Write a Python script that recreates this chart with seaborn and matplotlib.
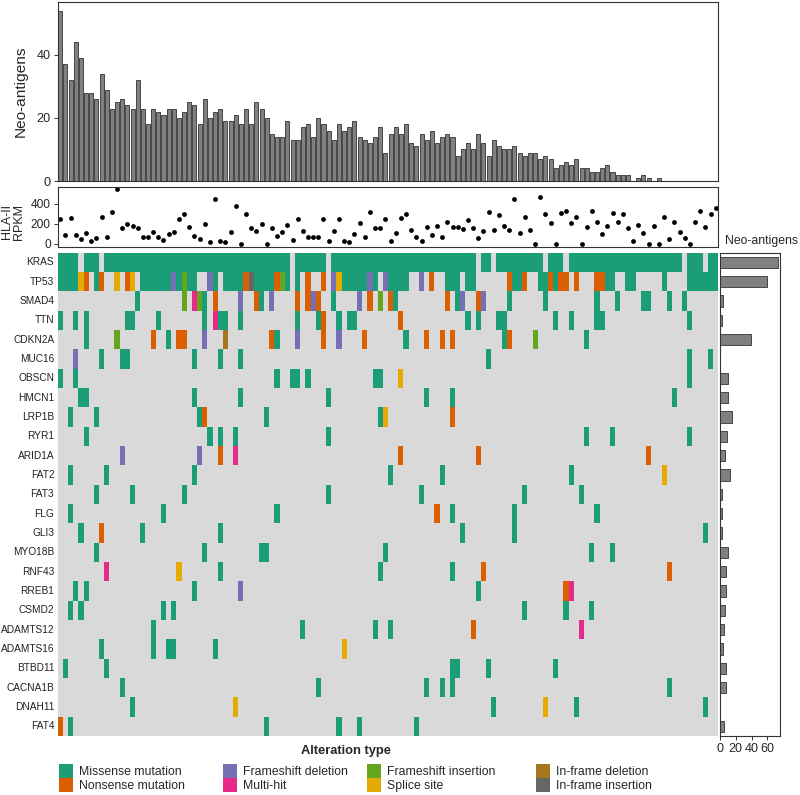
import numpy as np
import pandas as pd
import matplotlib
matplotlib.use("Agg")
import matplotlib.pyplot as plt
from matplotlib.colors import ListedColormap
from matplotlib.patches import Patch
import seaborn as sns

# ---------------- data ----------------
n_samples = 128
sample_idx = list(range(n_samples))

neo_antigens = [54, 37, 32, 44, 39, 28, 28, 26, 34, 29,
                23, 25, 26, 24, 23, 32, 23, 18, 23, 22,
                21, 23, 23, 20, 22, 25, 24, 18, 26, 20,
                22, 23, 19, 19, 21, 18, 23, 18, 25, 23,
                20, 15, 14, 14, 19, 13, 13, 17, 18, 14,
                20, 18, 16, 13, 18, 16, 17, 19, 14, 13,
                12, 14, 17, 9, 15, 17, 15,
                18, 12, 11, 15, 13, 16, 12, 14, 15, 14,
                8, 10, 12, 10, 15, 12, 8, 13, 11, 10,
                10, 11, 9, 8, 9, 9, 7, 8, 7, 4,
                5, 6, 5, 7, 4, 4, 3, 3, 4, 5,
                3, 2, 2, 2, 0, 1, 2, 1, 0, 1,
                0, 0, 0, 0, 0, 0, 0, 0, 0, 0, 0]

hla_rpkm = [247, 90, 257, 90, 50, 107, 30, 63, 273, 73,
            317, 547, 163, 197, 180, 163, 73, 73, 123, 73,
            40, 97, 123, 250, 297, 173, 80, 50, 200, 23,
            450, 33, 17, 123, 380, 0, 300, 157, 133, 197,
            0, 157, 80, 123, 190, 40, 247, 133, 73, 73,
            73, 247, 33, 133, 250, 30, 23, 100, 207, 73,
            317, 157, 163, 247, 30, 107, 257, 300, 140, 73,
            30, 167, 90, 183, 67, 217, 173, 173, 147, 240,
            157, 63, 130, 317, 140, 290, 183, 140, 450, 107,
            267, 140, 0, 473, 300, 207, 0, 307, 333, 207,
            267, 0, 167, 333, 217, 100, 183, 307, 223, 297,
            157, 30, 190, 113, 0, 180, 0, 267, 50, 223,
            117, 63, 0, 223, 330, 173, 300, 357]

genes = ["KRAS", "TP53", "SMAD4", "TTN", "CDKN2A", "MUC16", "OBSCN", "HMCN1",
         "LRP1B", "RYR1", "ARID1A", "FAT2", "FAT3", "FLG", "GLI3", "MYO18B",
         "RNF43", "RREB1", "CSMD2", "ADAMTS12", "ADAMTS16", "BTBD11",
         "CACNA1B", "DNAH11", "FAT4"]

gene_neo_antigens = [73, 60, 3.4, 2, 39, 0, 9.7, 9.7, 15, 8.5, 6.3, 12.3, 3,
                     2, 3, 9.7, 7, 7, 6.3, 5.5, 3.4, 7, 8, 0, 4.7]

alteration_types = ["Missense mutation", "Nonsense mutation", "Frameshift deletion",
                    "Multi-hit", "Frameshift insertion", "Splice site",
                    "In-frame deletion", "In-frame insertion"]
alteration_codes = ["MS", "NS", "FD", "MH", "FI", "SP", "ID", "II"]
alteration_colors = ["#1B9E77", "#D95F02", "#7570B3", "#E7298A",
                     "#66A61E", "#E6AB02", "#A6761D", "#666666"]
background_color = "#D9D9D9"

# (sample, code) or (first_sample, last_sample, code)
alterations = {
    "KRAS": [(0, 3, "MS"), (5, 7, "MS"), (9, 44, "MS"), (46, 51, "MS"), (53, 80, "MS"),
             (82, 83, "MS"), (85, 93, "MS"), (95, 97, "MS"), (99, 120, "MS"),
             (122, 124, "MS"), (126, 127, "MS")],
    "TP53": [(0, 3, "MS"), (4, "SP"), (5, "NS"), (7, "MS"), (8, "NS"), (11, "SP"),
             (13, "NS"), (14, "SP"), (16, 21, "MS"), (22, "FD"), (23, "MS"), (24, "FI"),
             (25, 26, "MS"), (29, "FD"), (30, "MS"), (32, 35, "MS"), (36, "NS"), (37, "II"),
             (38, 41, "MS"), (42, "NS"), (43, "FI"), (44, "MS"), (46, "MS"), (48, "NS"),
             (51, "NS"), (53, "FD"), (54, "SP"), (55, 59, "MS"), (60, "FD"), (61, "MS"),
             (63, "FD"), (64, 67, "MS"), (70, "FD"), (72, "NS"), (75, 77, "MS"),
             (79, 80, "MS"), (87, "NS"), (88, 89, "MS"), (90, "NS"), (93, 94, "MS"),
             (95, "NS"), (96, "MS"), (97, 98, "NS"), (100, "NS"), (104, 105, "NS"),
             (106, 107, "MS"), (110, 111, "MS"), (117, "MS"), (122, 127, "MS")],
    "SMAD4": [(15, "MS"), (24, "FI"), (26, "MH"), (27, "FI"), (28, "MS"), (30, "NS"),
              (35, "FD"), (38, "NS"), (39, "MS"), (41, "FD"), (46, "NS"), (48, "NS"),
              (49, "FD"), (50, "NS"), (53, "MS"), (58, "FD"), (60, "NS"), (62, "FI"),
              (64, "NS"), (65, "MS"), (75, "NS"), (77, "MS"), (78, "FD"), (81, "NS"),
              (82, "FD"), (87, "MS"), (94, "MS"), (104, "MS"), (108, "MS"),
              (113, 114, "MS"), (118, "MS"), (121, "MS")],
    "TTN": [(0, "MS"), (3, "MS"), (5, "MS"), (13, 14, "MS"), (19, "MS"), (28, "MS"),
            (30, "MH"), (31, 32, "MS"), (35, "MS"), (46, "MS"), (50, "MS"), (51, "NS"),
            (54, "MS"), (56, 57, "MS"), (66, "NS"), (79, "MS"), (81, "MS"), (85, 86, "MS"),
            (96, "MS"), (99, "MS"), (104, 105, "MS"), (122, "MS")],
    "CDKN2A": [(5, "MS"), (11, "FI"), (18, "NS"), (21, "MS"), (23, 24, "NS"), (28, "FD"),
               (32, "ID"), (41, "NS"), (42, "MS"), (46, "FD"), (51, "NS"), (54, "FD"),
               (59, "NS"), (67, "MS"), (71, "NS"), (74, "NS"), (76, "NS"), (86, "MS"),
               (87, "NS"), (92, "FI"), (102, "MS")],
    "MUC16": [(3, "FD"), (8, "MS"), (12, 13, "MS"), (26, "MS"), (31, "MS"), (35, "MS"),
              (83, "MS"), (122, "MS"), (126, "MS")],
    "OBSCN": [(0, "MS"), (3, "MS"), (42, "MS"), (45, 46, "MS"), (48, "MS"), (61, 62, "MS"),
              (66, "SP"), (122, "MS")],
    "HMCN1": [(4, 5, "MS"), (26, "MS"), (35, "MS"), (52, "MS"), (71, "MS"), (76, "MS"),
              (119, "MS")],
    "LRP1B": [(2, "MS"), (7, "MS"), (27, "MS"), (28, "NS"), (40, "MS"), (62, "MS"),
              (63, "SP"), (76, "NS")],
    "RYR1": [(5, "MS"), (29, "MS"), (31, "MS"), (34, "MS"), (52, "MS"), (102, "MS"),
             (107, "MS"), (122, "MS")],
    "ARID1A": [(12, "FD"), (27, "FD"), (31, "NS"), (34, "MH"), (66, "NS"), (81, "NS"),
               (114, "NS")],
    "FAT2": [(2, "MS"), (9, "MS"), (26, "MS"), (64, "MS"), (74, "MS"), (99, "MS"),
             (117, "SP")],
    "FAT3": [(7, "MS"), (14, "MS"), (24, "MS"), (52, "MS"), (70, "MS"), (90, "MS"),
             (101, "MS")],
    "FLG": [(2, "MS"), (20, "MS"), (42, "MS"), (73, "NS"), (76, "MS"), (88, "MS"),
            (104, "MS")],
    "GLI3": [(4, "MS"), (8, "NS"), (16, "MS"), (31, "MS"), (78, "MS"), (88, "MS"),
             (125, "MS")],
    "MYO18B": [(7, "MS"), (28, "MS"), (39, 40, "MS"), (63, "MS"), (103, "MS"), (107, "MS")],
    "RNF43": [(9, "MH"), (23, "SP"), (31, "MS"), (62, "MS"), (76, "MS"), (82, "NS"),
              (118, "NS")],
    "RREB1": [(3, "MS"), (5, "MS"), (26, "MS"), (35, "FD"), (81, "MS"), (98, "NS"),
              (99, "MH")],
    "CSMD2": [(2, "MS"), (4, "MS"), (20, "MS"), (22, "MS"), (90, "MS"), (98, "MS"),
              (103, "MS")],
    "ADAMTS12": [(18, "MS"), (47, "MS"), (61, "MS"), (64, "MS"), (80, "NS"), (101, "MH")],
    "ADAMTS16": [(8, "MS"), (18, "MS"), (21, 22, "MS"), (30, "MS"), (55, "SP")],
    "BTBD11": [(1, "MS"), (9, "MS"), (76, 77, "MS"), (83, "MS"), (96, "MS")],
    "CACNA1B": [(12, "MS"), (50, "MS"), (71, "MS"), (74, "MS"), (76, "MS"), (118, "MS")],
    "DNAH11": [(14, "MS"), (34, "SP"), (84, "MS"), (94, "SP"), (100, "MS"), (125, "MS")],
    "FAT4": [(0, "NS"), (2, "MS"), (40, "MS"), (54, "MS"), (58, "MS"), (69, "MS")],
}

# ---------------- build matrix ----------------
code_value = {c: k + 1 for k, c in enumerate(alteration_codes)}
mat = np.zeros((len(genes), n_samples), dtype=int)
for g, gene in enumerate(genes):
    for entry in alterations[gene]:
        if len(entry) == 2:
            s, c = entry
            mat[g, s] = code_value[c]
        else:
            a, b, c = entry
            mat[g, a:b + 1] = code_value[c]
onco = pd.DataFrame(mat, index=genes, columns=sample_idx)

# ---------------- style ----------------
sns.set_theme(style="ticks")
plt.rcParams['font.family'] = ['Liberation Sans', 'DejaVu Sans']
edge = "#333333"

W, H = 800, 795
fig = plt.figure(figsize=(W / 100, H / 100), dpi=100)

def fig_rect(x0, y0, x1, y1):
    return [x0 / W, 1 - y1 / H, (x1 - x0) / W, (y1 - y0) / H]

left_px, right_px = 57.7, 718.3

# ---- top: neo-antigen barplot ----
ax1 = fig.add_axes(fig_rect(left_px, 2, right_px, 181))
df_top = pd.DataFrame({"sample": sample_idx, "neo": neo_antigens})
sns.barplot(data=df_top, x="sample", y="neo", color="#808080", edgecolor=edge,
            linewidth=0.6, width=0.78, saturation=1, ax=ax1)
ax1.set_xlim(-0.5, n_samples - 0.5)
ax1.set_ylim(0, 56.8)
ax1.set_xticks([])
ax1.set_xlabel("")
ax1.set_yticks([0, 20, 40])
ax1.tick_params(axis="y", labelsize=9.1, length=3, width=0.7, color=edge, pad=2)
ax1.set_ylabel("Neo-antigens", fontsize=11.1)
ax1.yaxis.set_label_coords(-0.046, 0.5)
for sp in ax1.spines.values():
    sp.set_visible(True)
    sp.set_color(edge)
    sp.set_linewidth(0.8)

# ---- middle: HLA-II RPKM ----
ax2 = fig.add_axes(fig_rect(left_px, 187.3, right_px, 246.7))
df_mid = pd.DataFrame({"sample": sample_idx, "rpkm": hla_rpkm})
sns.scatterplot(data=df_mid, x="sample", y="rpkm", color="black", s=12,
                linewidth=0, ax=ax2)
ax2.set_xlim(-0.5, n_samples - 0.5)
ax2.set_ylim(-27, 567)
ax2.set_xticks([])
ax2.set_xlabel("")
ax2.set_yticks([0, 200, 400])
ax2.tick_params(axis="y", labelsize=8.6, length=3, width=0.7, color=edge, pad=2)
ax2.set_ylabel("HLA-II\nRPKM", fontsize=9, linespacing=1.0)
ax2.yaxis.set_label_coords(-0.049, 0.42)
for sp in ax2.spines.values():
    sp.set_visible(True)
    sp.set_color(edge)
    sp.set_linewidth(0.8)

# ---- heatmap ----
ax3 = fig.add_axes(fig_rect(left_px, 252.7, right_px, 736))
cmap = ListedColormap([background_color] + alteration_colors)
sns.heatmap(onco, cmap=cmap, vmin=-0.5, vmax=len(alteration_codes) + 0.5, cbar=False,
            xticklabels=False, yticklabels=genes, ax=ax3)
ax3.tick_params(axis="y", labelsize=7.3, length=0, pad=2.5, labelcolor="#222222")
ax3.set_yticklabels(genes, rotation=0)
ax3.set_xlabel("")
ax3.set_ylabel("")

# ---- right: neo-antigens per gene ----
ax4 = fig.add_axes(fig_rect(720, 252.7, 780, 736))
df_right = pd.DataFrame({"gene": genes, "neo": gene_neo_antigens})
sns.barplot(data=df_right, x="neo", y="gene", orient="h", color="#808080",
            edgecolor=edge, linewidth=0.6, width=0.6, saturation=1, ax=ax4)
ax4.set_ylim(len(genes) - 0.5, -0.5)
ax4.set_xlim(0, 76)
ax4.set_xticks([0, 20, 40, 60])
ax4.set_yticks([])
ax4.set_xlabel("")
ax4.set_ylabel("")
ax4.tick_params(axis="x", labelsize=9, length=3, width=0.7, color=edge, pad=2)
for sp in ax4.spines.values():
    sp.set_visible(True)
    sp.set_color(edge)
    sp.set_linewidth(0.8)
ax4.text(0.08, 1.012, "Neo-antigens", transform=ax4.transAxes, ha="left", va="bottom",
         fontsize=8.8)

# ---- legend ----
fig.text(346 / W, 1 - 751 / H, "Alteration type", ha="center", va="center",
         fontsize=9.3, fontweight="bold")
handles = [Patch(facecolor=c, edgecolor="none", label=l)
           for l, c in zip(alteration_types, alteration_colors)]
legend_x = [59, 223, 367, 536]
for k, xp in enumerate(legend_x):
    fig.legend(handles=handles[2 * k:2 * k + 2], loc="upper left",
               bbox_to_anchor=(xp / W, 1 - 764 / H), frameon=False, fontsize=8.8,
               handlelength=1.17, handleheight=1.38, handletextpad=0.45,
               labelspacing=0.0, borderpad=0, borderaxespad=0)

fig.savefig("out.png", dpi=100)
